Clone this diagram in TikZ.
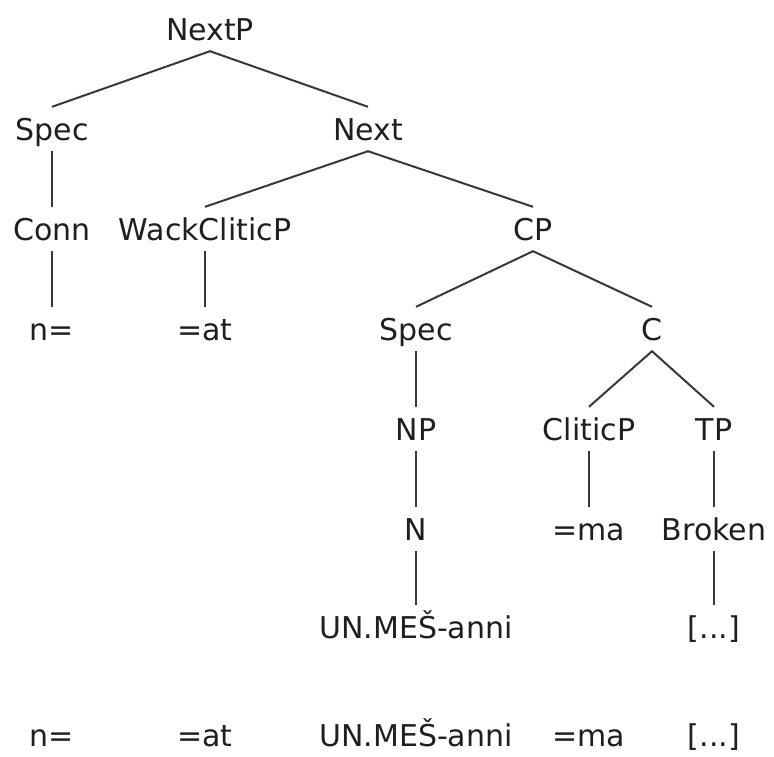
\documentclass[tikz,border=0pt]{standalone}
\usepackage{fontspec}
\setmainfont{DejaVu Sans}

\begin{document}
\begin{tikzpicture}[x = 1pt, y = -1pt,
  lbl/.style = {anchor = base, inner xsep = 0, inner ysep = 11pt,
    text height = 22pt, text depth = 0pt,
    font = \fontsize{30}{36}\selectfont, text = black!88},
  branch/.style = {line width = 2pt, draw = black!78}]
  \useasboundingbox (0, 0) rectangle (774, 756);

  % tree labels, one row per level
  \node[lbl] (nextp) at (210, 40) {NextP};

  \node[lbl] (spec) at (52, 140) {Spec};
  \node[lbl] (next) at (368, 140) {Next};

  \node[lbl] (conn) at (52, 240) {Conn};
  \node[lbl] (wack) at (205, 240) {WackCliticP};
  \node[lbl] (cp) at (533, 240) {CP};

  \node[lbl] (conn-w) at (52, 340) {n=};
  \node[lbl] (wack-w) at (205, 340) {=at};
  \node[lbl] (cpspec) at (416, 340) {Spec};
  \node[lbl] (c) at (652, 340) {C};

  \node[lbl] (np) at (416, 440) {NP};
  \node[lbl] (clitic) at (589, 440) {CliticP};
  \node[lbl] (tp) at (714, 440) {TP};

  \node[lbl] (n) at (416, 540) {N};
  \node[lbl] (clitic-w) at (589, 540) {=ma};
  \node[lbl] (broken) at (714, 540) {Broken};

  \node[lbl] (n-w) at (416, 638) {UN.MEŠ-anni};
  \node[lbl] (broken-w) at (714, 638) {[...]};

  % branches
  \draw[branch] (spec.north) -- (nextp.south) -- (next.north);
  \draw[branch] (wack.north) -- (next.south) -- (cp.north);
  \draw[branch] (cpspec.north) -- (cp.south) -- (c.north);
  \draw[branch] (clitic.north) -- (c.south) -- (tp.north);

  % unary branches
  \draw[branch] (spec.south) -- (conn.north);
  \draw[branch] (conn.south) -- (conn-w.north);
  \draw[branch] (wack.south) -- (wack-w.north);
  \draw[branch] (cpspec.south) -- (np.north);
  \draw[branch] (np.south) -- (n.north);
  \draw[branch] (n.south) -- (n-w.north);
  \draw[branch] (clitic.south) -- (clitic-w.north);
  \draw[branch] (tp.south) -- (broken.north);
  \draw[branch] (broken.south) -- (broken-w.north);

  % the words in line order
  \foreach \x/\w [count = \i] in {52/n=, 205/=at, 416/UN.MEŠ-anni, 589/=ma, 714/{[...]}}{
    \node[lbl] (gloss-\i) at (\x, 746) {\w};
  }
\end{tikzpicture}
\end{document}
